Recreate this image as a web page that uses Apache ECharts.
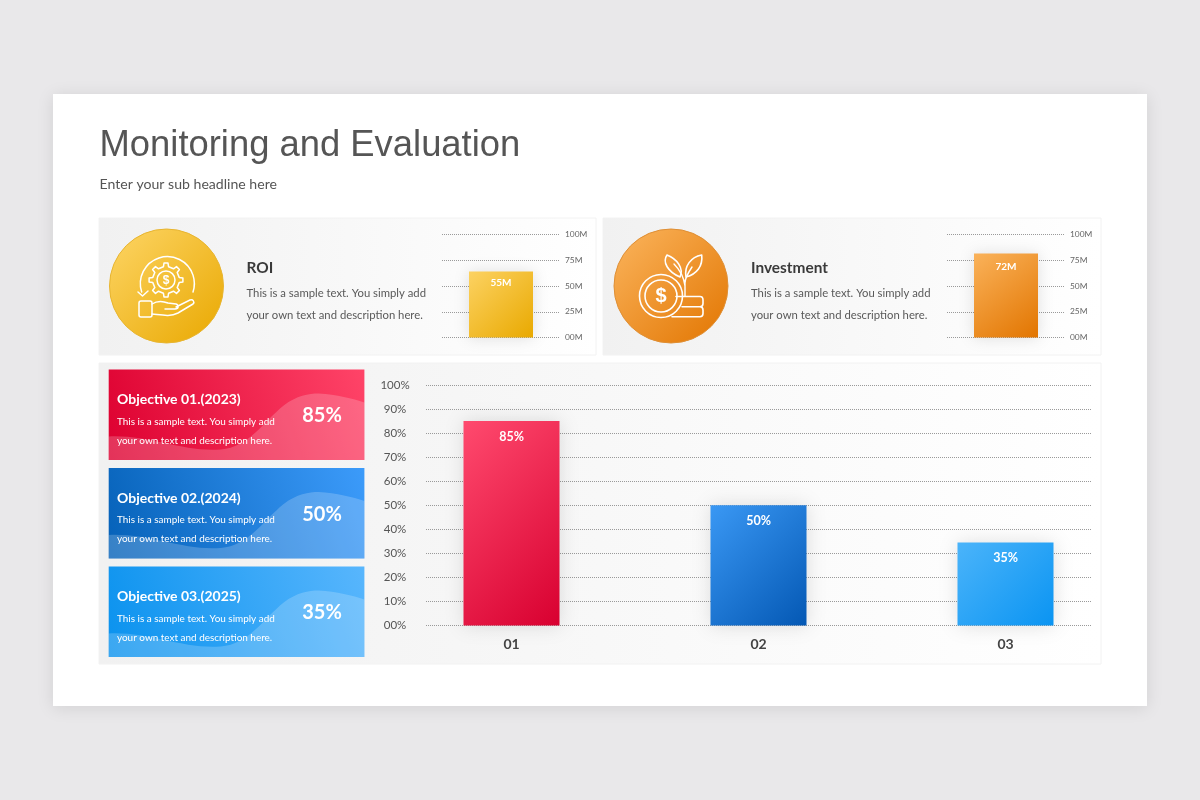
<!DOCTYPE html>
<html><head><meta charset="utf-8">
<style>html,body{margin:0;padding:0;background:#e9e8ea}#c{width:1200px;height:800px}</style>
<script src="https://cdn.jsdelivr.net/npm/echarts@6/dist/echarts.min.js"></script>
</head><body><div id="c"></div>
<script>
const categories = ['01','02','03'];
const objectiveValues = [85,50,34.5];
const objectiveLabels = ['85%','50%','35%'];
const percentTicks = ['00%','10%','20%','30%','40%','50%','60%','70%','80%','90%','100%'];
const moneyTicks = ['00M','25M','50M','75M','100M'];
const roiValue = [64];
const roiLabel = ['55M'];
const investmentValue = [81.5];
const investmentLabel = ['72M'];
const cardTitles = ['Objective 01.(2023)','Objective 02.(2024)','Objective 03.(2025)'];
const bodyLine1 = 'This is a sample text. You simply add';
const bodyLine2 = 'your own text and description here.';

const BODY = 'Lato, "Open Sans", sans-serif';
function grad(a,b){return new echarts.graphic.LinearGradient(0,0,1,1,[{offset:0,color:a},{offset:1,color:b}]);}
function hgrad(a,b){return new echarts.graphic.LinearGradient(0,0,1,0,[{offset:0,color:a},{offset:1,color:b}]);}
function txt(t,x,y,font,fill,align){return {type:'text',style:{text:t,x:x,y:y,font:font,fill:fill,align:align||'left',verticalAlign:'middle'}};}
function rect(x,y,w,h,style){return {type:'rect',shape:{x:x,y:y,width:w,height:h},style:style};}
let shapeCount=0;
function pathEl(d,style,extra){
  const name='iconShape'+(shapeCount++);
  echarts.graphic.registerShape(name,echarts.graphic.extendPath(d,{}));
  return Object.assign({type:name,style:style},extra||{});
}
function line(d,w){return pathEl(d,{fill:'none',stroke:'#fff',lineWidth:w||1.5,lineCap:'round',lineJoin:'round'});}
function ring(cx,cy,r,w){return {type:'circle',shape:{cx:cx,cy:cy,r:r},style:{fill:'none',stroke:'#fff',lineWidth:w||1.5}};}
function gear(cx,cy,r1,r2,n){
  let d='';
  for(let i=0;i<n;i++){
    const a=i/n*Math.PI*2, s=Math.PI/n;
    const pts=[[r1,a-s*0.5],[r2,a-s*0.3],[r2,a+s*0.3],[r1,a+s*0.5]];
    pts.forEach((p,j)=>{d+=((i===0&&j===0)?'M':'L')+(cx+p[0]*Math.cos(p[1])).toFixed(1)+' '+(cy+p[0]*Math.sin(p[1])).toFixed(1)+' ';});
  }
  return d+'Z';
}

const els = [];
// slide
els.push(rect(53,94,1094,612,{fill:'#fff',shadowBlur:16,shadowColor:'rgba(0,0,0,0.10)',shadowOffsetY:2}));
els.push(txt('Monitoring and Evaluation',99.5,146,'36.4px "Liberation Sans"','#555555'));
els.push(txt('Enter your sub headline here',99.5,184,'14.1px '+BODY,'#555555'));
// panels
[[99,218,497,137],[603,218,498,137],[99,363,1002,301]].forEach(p=>{
  els.push(rect(p[0],p[1],p[2],p[3],{fill:hgrad('#f1f1f1','#ffffff'),stroke:'#f2f2f2',lineWidth:1}));
});
// ROI block
els.push({type:'circle',shape:{cx:166.5,cy:286,r:57},style:{fill:grad('#fdd566','#e9a800'),stroke:'#e8b530',lineWidth:1}});
els.push(line(gear(166,280,13.5,17,8),1.5));
els.push(ring(166,280,9,1.5));
els.push(txt('$',166,280.5,'bold 12px "Liberation Sans"','#fff','center'));
els.push(line('M141.7 292 A27 27 0 1 1 193 292'));
els.push(line('M138 292 L142.5 296 L148 291'));
els.push({type:'rect',shape:{x:139,y:301,width:13,height:16,r:2},style:{fill:'none',stroke:'#fff',lineWidth:1.5}});
els.push(line('M152 304 C158 300 163 301 168 303 L176 304 C179 305 179 309 175 309 L165 309 M176 307 L190 300 C193 299 195 302 193 304 L178 313 C170 317 162 315 152 314'));
els.push(txt('ROI',246.5,268,'bold 15.4px '+BODY,'#3a3a3a'));
els.push(txt(bodyLine1,246.5,293.5,'11.3px '+BODY,'#595959'));
els.push(txt(bodyLine2,246.5,315,'11.3px '+BODY,'#595959'));
// Investment block
els.push({type:'circle',shape:{cx:671,cy:286,r:57},style:{fill:grad('#fbb55e','#e27500'),stroke:'#df8f35',lineWidth:1}});
els.push(ring(661,296,21.5,1.6));
els.push(ring(661,296,16,1.6));
els.push(txt('$',661,296.5,'bold 20px "Liberation Sans"','#fff','center'));
els.push(line('M676 296.5 H700 Q703 296.5 703 300 V303.5 Q703 306.7 700 306.7 H682 M700 306.7 Q703 306.7 703 310 V313.5 Q703 316.7 700 316.7 H672',1.6));
els.push(line('M680 277 C668 272 662 262 667 255 C677 259 684 268 680 277',1.6));
els.push(line('M686 277 C684 266 691 257 701.7 255 C703 266 697 274 686 277',1.6));
els.push(line('M685 296 V283 C685 278 688 273 692 267 M685 286 C684 278 680 270 674 264',1.4));
els.push(txt('Investment',751,268,'bold 15.4px '+BODY,'#3a3a3a'));
els.push(txt(bodyLine1,751,293.5,'11.3px '+BODY,'#595959'));
els.push(txt(bodyLine2,751,315,'11.3px '+BODY,'#595959'));
// objective cards
const cardTop=[369.5,468,566.5];
const cardFill=[['#dd0030','#ff4468'],['#0561b8','#3c9bfa'],['#0a92ee','#58b6fd']];
cardTop.forEach((y,i)=>{
  const c=cardFill[i];
  els.push(rect(108.7,y,255.7,90.5,{fill:new echarts.graphic.LinearGradient(0,1,1,0,[{offset:0,color:c[0]},{offset:1,color:c[1]}])}));
  els.push(pathEl('M0 67 C40 65 75 83 112 80 C140 78 155 52 175 36 C188 26 200 24 210 24 C228 25 244 29 255.7 33 L255.7 90.5 L0 90.5 Z',{fill:'rgba(255,255,255,0.2)'},{x:108.7,y:y}));
  els.push(txt(cardTitles[i],117,y+30,'bold 14px '+BODY,'#fff'));
  els.push(txt(bodyLine1,117,y+52,'9.95px '+BODY,'#fff'));
  els.push(txt(bodyLine2,117,y+71,'9.95px '+BODY,'#fff'));
  els.push(txt(objectiveLabels[i],322,y+46.5,'bold 20px '+BODY,'#fff','center'));
});

function dotted(){return {show:true,lineStyle:{type:[1,1],color:'#9a9a9a',width:1}};}
function moneyY(gridIndex){return {type:'value',gridIndex:gridIndex,position:'right',min:0,max:100,interval:25,
  axisLine:{show:false},axisTick:{show:false},splitLine:dotted(),
  axisLabel:{margin:5,fontFamily:BODY,fontSize:8.4,color:'#666',formatter:(v,i)=>moneyTicks[i]}};}
function smallX(gridIndex){return {type:'category',gridIndex:gridIndex,data:[''],axisLine:{show:false},axisTick:{show:false},axisLabel:{show:false}};}
function smallBar(xi,vals,labels,a,b,dist){return {type:'bar',xAxisIndex:xi,yAxisIndex:xi,data:vals,barWidth:64,
  itemStyle:{color:grad(a,b),shadowBlur:14,shadowColor:'rgba(0,0,0,0.12)'},
  label:{show:true,position:'insideTop',distance:dist,color:'#fff',fontFamily:BODY,fontWeight:'bold',fontSize:10,formatter:p=>labels[p.dataIndex]}};}
const barColors=[['#ff4a6e','#d80030'],['#3a98f4','#0458b4'],['#4bb4fa','#0a94f2']];
// 45-degree gradient directions for the three differently proportioned bars
const barDirs=[[-0.28,0.13,1.28,0.87],[-0.06,0.05,1.06,0.95],[0.03,-0.04,0.97,1.04]];

const option={
  animation:false,
  backgroundColor:'transparent',
  graphic:{z:-1,elements:els},
  grid:[
    {left:442,top:234.5,width:118,height:103},
    {left:947,top:234.5,width:118,height:103},
    {left:426,top:385,width:665,height:240.5},
    {left:388,top:385,width:741,height:240.5}
  ],
  xAxis:[smallX(0),smallX(1),
    {type:'category',gridIndex:2,data:[''],show:false},
    {type:'category',gridIndex:3,data:categories,axisLine:{show:false},axisTick:{show:false},
      axisLabel:{margin:12,fontFamily:BODY,fontWeight:'bold',fontSize:14,color:'#444'}}],
  yAxis:[moneyY(0),moneyY(1),
    {type:'value',gridIndex:2,min:0,max:100,interval:10,axisLine:{show:false},axisTick:{show:false},splitLine:dotted(),
      axisLabel:{margin:31,align:'center',fontFamily:BODY,fontSize:11.5,color:'#555',formatter:(v,i)=>percentTicks[i]}},
    {type:'value',gridIndex:3,min:0,max:100,show:false,splitLine:{show:false}}],
  series:[
    smallBar(0,roiValue,roiLabel,'#fcd262','#e9a900',6),
    smallBar(1,investmentValue,investmentLabel,'#fab25a','#e27500',8.5),
    {type:'bar',xAxisIndex:3,yAxisIndex:3,barWidth:96,
      data:objectiveValues.map((v,i)=>{const d=barDirs[i];return {value:v,itemStyle:{color:new echarts.graphic.LinearGradient(d[0],d[1],d[2],d[3],[{offset:0,color:barColors[i][0]},{offset:1,color:barColors[i][1]}])}};}),
      itemStyle:{shadowBlur:18,shadowColor:'rgba(0,0,0,0.12)'},
      label:{show:true,position:'insideTop',distance:9,color:'#fff',fontFamily:BODY,fontWeight:'bold',fontSize:12.5,formatter:p=>objectiveLabels[p.dataIndex]}}
  ]
};
const chart=echarts.init(document.getElementById('c'),null,{renderer:'canvas',width:1200,height:800});
chart.setOption(option);
</script></body></html>
